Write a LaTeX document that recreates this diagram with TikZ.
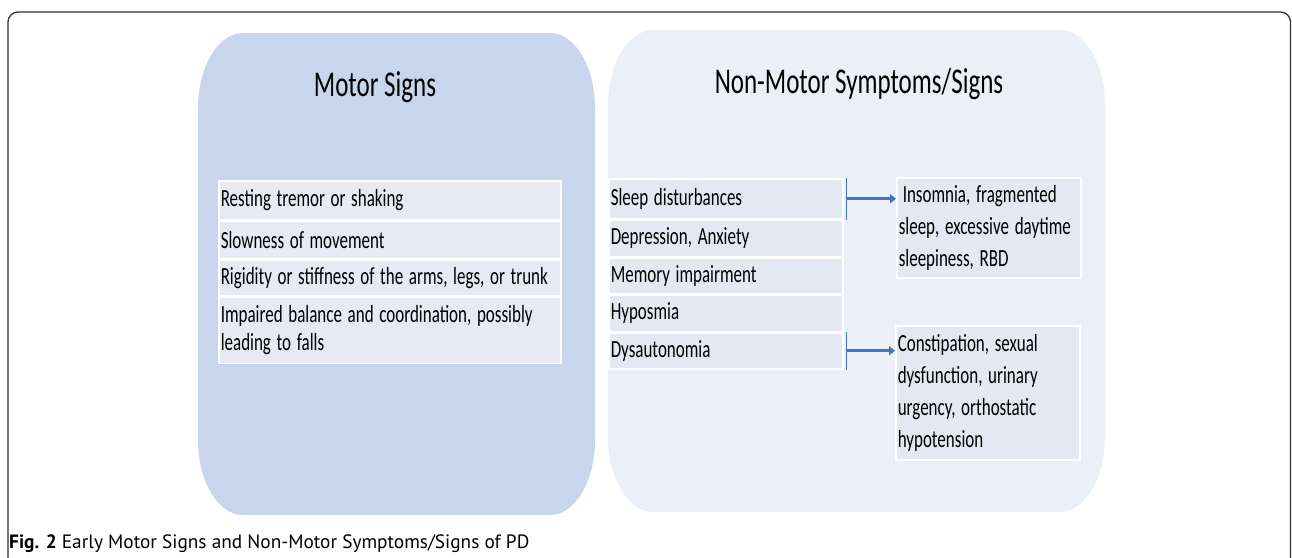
\documentclass[tikz,border=0pt]{standalone}
\usepackage{fontspec}
\setmainfont{Carlito}
\newfontfamily\capfont{PT Sans}
\usepackage{graphicx}
\usetikzlibrary{positioning, arrows.meta}
\definecolor{motorblue}{HTML}{C9D5EC}
\definecolor{nonmotorblue}{HTML}{EAEFF8}
\definecolor{cellblue}{HTML}{E7EAF5}
\definecolor{cellgray}{HTML}{E4E8F2}
\definecolor{arrowblue}{HTML}{4472C4}
\newcommand{\sq}[1]{\scalebox{1}[1.45]{#1}}

\begin{document}
\begin{tikzpicture}[x=1pt, y=-1pt, font=\fontsize{17}{28}\selectfont]
	\useasboundingbox (0,0) rectangle (1292,557);
	
	% Setup the styles for the cells and boxes
	\tikzset{cell/.style={rectangle,
			draw=white,
			line width=1.5pt,
			fill=cellblue,
			anchor=north west,
			inner xsep=2pt,
			inner ysep=0pt,
			align=left},
		detail/.style={cell,
			fill=cellgray,
			text width=180pt,
			font=\fontsize{17}{32}\selectfont},
		link/.style={draw=arrowblue,
			line width=1.6pt}}
	
	% Frame and caption
	\draw[line width=1.3pt, draw=black!80, rounded corners=10pt] (8,560) -- (8,12) -- (1290.5,12) -- (1290.5,560);
	\node[anchor=base west, inner sep=0pt, font=\capfont\fontsize{19.3}{22}\selectfont] (caption) at (9,548)
	{\textbf{Fig. 2} Early Motor Signs and Non-Motor Symptoms/Signs of PD};
	
	% Draw the two panels
	\fill[motorblue] (243,33) -- (550,33) arc[start angle=270, end angle=360, x radius=45, y radius=75]
	-- (595,440) arc[start angle=0, end angle=90, x radius=45, y radius=75]
	-- (243,515) arc[start angle=90, end angle=180, x radius=45, y radius=75]
	-- (198,108) arc[start angle=180, end angle=270, x radius=45, y radius=75] -- cycle;
	\fill[nonmotorblue] (653,30) -- (1060,30) arc[start angle=270, end angle=360, x radius=45, y radius=75]
	-- (1105,437) arc[start angle=0, end angle=90, x radius=45, y radius=75]
	-- (653,512) arc[start angle=90, end angle=180, x radius=45, y radius=75]
	-- (608,105) arc[start angle=180, end angle=270, x radius=45, y radius=75] -- cycle;
	
	\node[font=\fontsize{25}{30}\selectfont] (motortitle) at (375,87) {\sq{Motor Signs}};
	\node[font=\fontsize{25}{30}\selectfont] (nonmotortitle) at (859,84) {\sq{Non-Motor Symptoms/Signs}};
	
	% Motor signs
	\node[cell, text width=338pt, minimum height=39pt] at (218,180) (tremor) {\sq{Resting tremor or shaking}};
	\node[cell, text width=338pt, minimum height=37pt, below=0pt of tremor] (slowness) {\sq{Slowness of movement}};
	\node[cell, text width=338pt, minimum height=36pt, below=0pt of slowness] (rigidity) {\sq{Rigidity or stiffness of the arms, legs, or trunk}};
	\node[cell, text width=338pt, minimum height=66pt, below=0pt of rigidity] (balance)
	{\sq{Impaired balance and coordination, possibly}\\\sq{leading to falls}};
	
	% Non-motor symptoms
	\node[cell, fill=cellgray, text width=230pt, minimum height=40pt] at (608,178) (sleep) {\sq{Sleep disturbances}};
	\node[cell, fill=cellgray, text width=230pt, minimum height=36pt, below=0pt of sleep] (depression) {\sq{Depression, Anxiety}};
	\node[cell, fill=cellgray, text width=230pt, minimum height=36pt, below=0pt of depression] (memory) {\sq{Memory impairment}};
	\node[cell, fill=cellgray, text width=230pt, minimum height=36pt, below=0pt of memory] (hyposmia) {\sq{Hyposmia}};
	\node[cell, fill=cellgray, text width=230pt, minimum height=36pt, below=0pt of hyposmia] (dysautonomia) {\sq{Dysautonomia}};
	
	\node[detail, minimum height=100pt] at (896,177) (insomnia)
	{\sq{\hspace{4pt}Insomnia, fragmented}\\\sq{sleep, excessive daytime}\\\sq{sleepiness, RBD}};
	\node[detail, minimum height=134pt] at (895,325) (constipation)
	{\sq{Constipation, sexual}\\\sq{dysfunction, urinary}\\\sq{urgency, orthostatic}\\\sq{hypotension}};
	
	% Connect the rows with the boxes
	\draw[link] ([xshift=3pt]sleep.north east) -- ([xshift=3pt]sleep.south east);
	\draw[link, line width=2.6pt, -{Triangle[length=6pt, width=9pt]}] ([xshift=3pt]sleep.east) -- (sleep.east -| insomnia.west);
	\draw[link] ([xshift=3pt]dysautonomia.north east) -- ([xshift=3pt]dysautonomia.south east);
	\draw[link, line width=2.6pt, -{Triangle[length=6pt, width=9pt]}] ([xshift=3pt]dysautonomia.east) -- (dysautonomia.east -| constipation.west);
\end{tikzpicture}
\end{document}
